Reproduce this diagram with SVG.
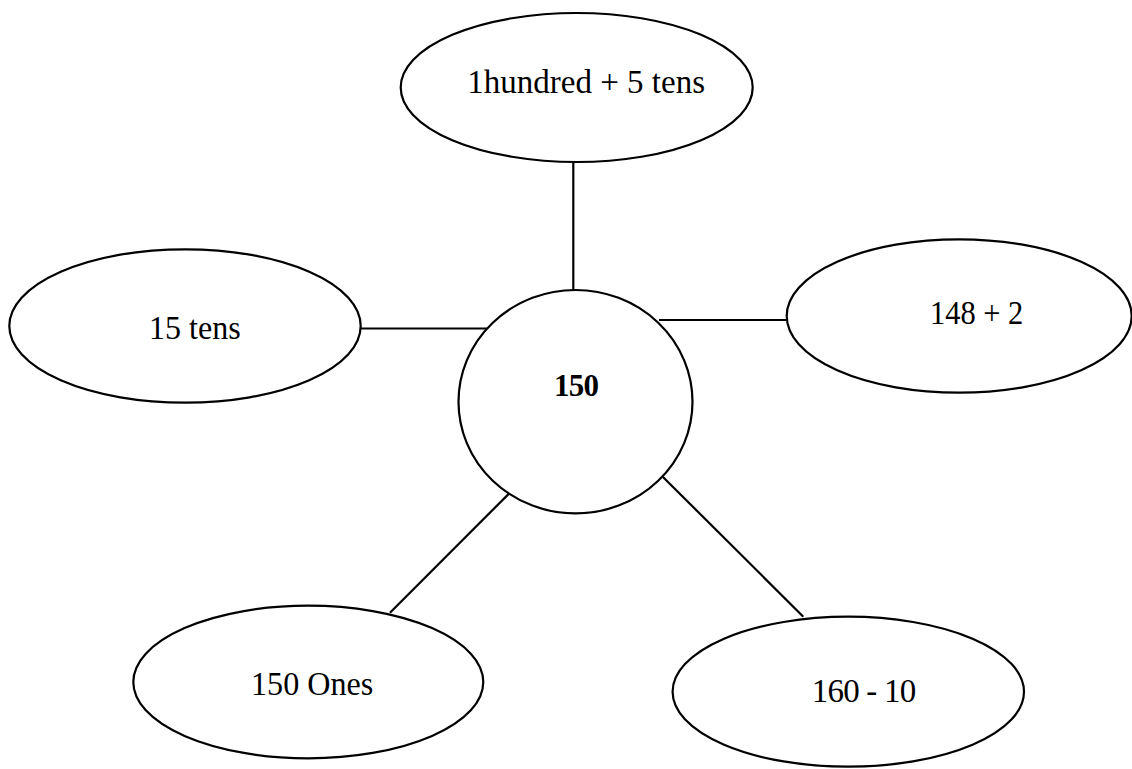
<svg xmlns="http://www.w3.org/2000/svg" width="1132" height="769" viewBox="0 0 1132 769">
<style>
.shape{fill:#fff;stroke:#000;stroke-width:2.2}
.conn line{stroke:#000;stroke-width:2.2}
.lbl{font-family:"Liberation Serif","Times New Roman",serif;font-size:33px;fill:#000}
.b{font-weight:bold;font-size:31px}
</style>
<rect width="1132" height="769" fill="#fff"/>
<g id="connectors" class="conn">
<line x1="573.3" y1="162" x2="573.3" y2="290"/>
<line x1="360.7" y1="328.5" x2="487" y2="328.5"/>
<line x1="659" y1="320" x2="786" y2="320"/>
<line x1="509.3" y1="493.3" x2="390" y2="612.7"/>
<line x1="662.7" y1="476.7" x2="803.3" y2="616.7"/>
</g>
<g id="center">
<ellipse class="shape" cx="575.5" cy="401.7" rx="117" ry="111.7"/>
<text class="lbl b" x="554" y="396" textLength="45" lengthAdjust="spacing">150</text>
</g>
<g id="top">
<ellipse class="shape" cx="576.7" cy="87.5" rx="176" ry="74.5"/>
<text class="lbl" x="467.3" y="93.3" textLength="237.7" lengthAdjust="spacingAndGlyphs">1hundred + 5 tens</text>
</g>
<g id="left">
<ellipse class="shape" cx="185" cy="326" rx="175.7" ry="76.7"/>
<text class="lbl" x="149" y="339" textLength="91.7" lengthAdjust="spacingAndGlyphs">15 tens</text>
</g>
<g id="right">
<ellipse class="shape" cx="959.2" cy="316" rx="172.5" ry="76.7"/>
<text class="lbl" x="930" y="324" textLength="93.3" lengthAdjust="spacingAndGlyphs">148 + 2</text>
</g>
<g id="bottom-left">
<ellipse class="shape" cx="308.3" cy="682" rx="175" ry="76.3"/>
<text class="lbl" x="251" y="695" textLength="122.3" lengthAdjust="spacingAndGlyphs">150 Ones</text>
</g>
<g id="bottom-right">
<ellipse class="shape" cx="848.3" cy="691.7" rx="175.7" ry="75"/>
<text class="lbl" x="811.7" y="701.7" textLength="104.5" lengthAdjust="spacing">160 - 10</text>
</g>
</svg>
